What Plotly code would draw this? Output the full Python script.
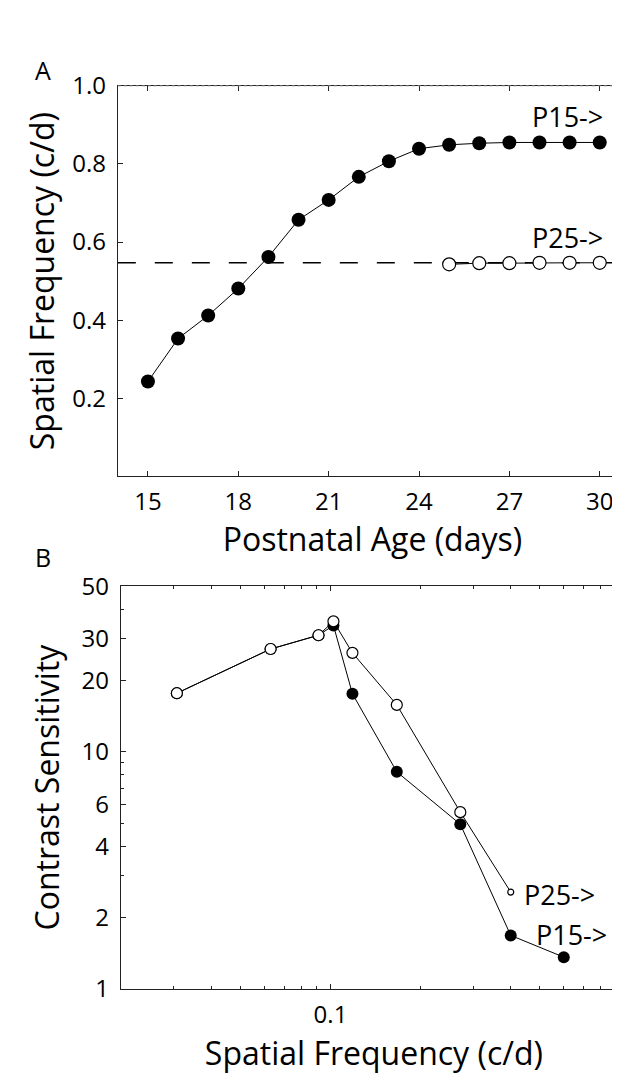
import plotly.graph_objects as go

# ---------------- Data ----------------
# Panel A: acuity (spatial frequency, c/d) vs postnatal age (days)
age_days = [15, 16, 17, 18, 19, 20, 21, 22, 23, 24, 25, 26, 27, 28, 29, 30]
p15_acuity = [0.243, 0.353, 0.412, 0.481, 0.562, 0.657, 0.708, 0.767, 0.807,
              0.839, 0.849, 0.853, 0.855, 0.855, 0.855, 0.855]
p25_age_days = [25, 26, 27, 28, 29, 30]
p25_acuity = [0.543, 0.546, 0.546, 0.547, 0.547, 0.547]
p25_level = 0.547

# Panel B: contrast sensitivity vs spatial frequency
p15_sf = [0.0307, 0.0631, 0.0912, 0.1023, 0.1184, 0.1665, 0.2713, 0.3998, 0.601]
p15_cs = [17.7, 27.2, 31.1, 34.2, 17.6, 8.24, 4.95, 1.68, 1.36]
p25_sf = [0.0307, 0.0631, 0.0912, 0.1023, 0.1184, 0.1665, 0.2713, 0.3998]
p25_cs = [17.7, 27.2, 31.1, 35.6, 26.2, 15.8, 5.57, 2.56]

a_xticks = [15, 18, 21, 24, 27, 30]
a_yticks = [0.2, 0.4, 0.6, 0.8, 1.0]
a_yticklabels = ["0.2", "0.4", "0.6", "0.8", "1.0"]
b_xticks = [0.1]
b_xticklabels = ["0.1"]
b_xminor = [0.02, 0.03, 0.04, 0.05, 0.06, 0.07, 0.08, 0.09,
            0.2, 0.3, 0.4, 0.5, 0.6, 0.7, 0.8, 0.9]
b_yticks = [1, 2, 4, 6, 10, 20, 30, 50]
b_yticklabels = ["1", "2", "4", "6", "10", "20", "30", "50"]
b_yminor = [3, 5, 7, 8, 9, 40]

# ---------------- Figure ----------------
FONT = "Open Sans"
W, H = 620, 1084

fig = go.Figure()

# Panel A
fig.add_trace(go.Scatter(
    x=age_days, y=p15_acuity, mode="lines+markers", name="P15",
    line=dict(color="black", width=1),
    marker=dict(size=14, color="black", opacity=1),
    xaxis="x", yaxis="y", showlegend=False))
fig.add_trace(go.Scatter(
    x=p25_age_days, y=p25_acuity, mode="lines+markers", name="P25",
    line=dict(color="black", width=1),
    marker=dict(size=13, color="white", opacity=1,
                line=dict(color="black", width=1.2)),
    xaxis="x", yaxis="y", showlegend=False))

# Panel B
fig.add_trace(go.Scatter(
    x=p15_sf, y=p15_cs, mode="lines+markers", name="P15",
    line=dict(color="black", width=1),
    marker=dict(size=12, color="black", opacity=1),
    xaxis="x2", yaxis="y2", showlegend=False))
fig.add_trace(go.Scatter(
    x=p25_sf, y=p25_cs, mode="lines+markers", name="P25",
    line=dict(color="black", width=1),
    marker=dict(size=[11, 11, 11, 11, 11, 11, 11, 6], color="white", opacity=1,
                line=dict(color="black", width=1.2)),
    xaxis="x2", yaxis="y2", showlegend=False))

axis_common = dict(
    showgrid=False, zeroline=False, showline=True, linecolor="#222",
    linewidth=1, ticks="inside", ticklen=5, tickcolor="#222",
    tickfont=dict(family=FONT, size=24, color="black"),
)

fig.update_layout(
    width=W, height=H,
    margin=dict(l=0, r=0, t=0, b=0),
    paper_bgcolor="white", plot_bgcolor="white",
    font=dict(family=FONT, color="black"),
    xaxis=dict(
        **axis_common, domain=[110 / W, 1.0], range=[14.0, 30.905],
        tickvals=a_xticks, mirror="ticks", anchor="y",
        ticklabelstandoff=4,
        title=dict(text="Postnatal Age (days)", font=dict(family=FONT, size=32),
                   standoff=10),
    ),
    yaxis=dict(
        **axis_common, domain=[1 - 464.6 / H, 1 - 61.7 / H], range=[0, 1.0],
        tickvals=a_yticks, ticktext=a_yticklabels, mirror="ticks", anchor="x",
        ticklabelstandoff=6,
        title=dict(text="Spatial Frequency (c/d)", font=dict(family=FONT, size=32),
                   standoff=8),
    ),
    xaxis2=dict(
        **axis_common, type="log", domain=[113 / W, 1.0], range=[-1.70, -0.01],
        tickvals=b_xticks, ticktext=b_xticklabels, mirror="allticks", anchor="y2",
        ticklabelstandoff=4,
        minor=dict(tickvals=b_xminor, ticks="inside", ticklen=3, tickcolor="#222"),
        title=dict(text="Spatial Frequency (c/d)", font=dict(family=FONT, size=32),
                   standoff=14),
    ),
    yaxis2=dict(
        **axis_common, type="log", domain=[1 - 993 / H, 1 - 578 / H],
        range=[0, 1.69897],
        tickvals=b_yticks, ticktext=b_yticklabels, mirror="allticks", anchor="x2",
        ticklabelstandoff=6,
        minor=dict(tickvals=b_yminor, ticks="inside", ticklen=3, tickcolor="#222"),
        title=dict(text="Contrast Sensitivity", font=dict(family=FONT, size=32),
                   standoff=12),
    ),
)

# Dashed P25 reference level in panel A and faint top border
fig.add_shape(type="line", xref="x domain", yref="y", x0=0, x1=1,
              y0=p25_level, y1=p25_level,
              line=dict(color="black", width=1.5, dash="18px,19px"), layer="below")
fig.add_shape(type="line", xref="x domain", yref="y domain", x0=0, x1=1, y0=1, y1=1,
              line=dict(color="#888", width=1, dash="dot"))

ann_font = dict(family=FONT, size=27, color="black")
fig.add_annotation(x=27.69, y=0.922, xref="x", yref="y", text="P15->",
                   showarrow=False, xanchor="left", yanchor="middle", font=ann_font)
fig.add_annotation(x=27.69, y=0.612, xref="x", yref="y", text="P25->",
                   showarrow=False, xanchor="left", yanchor="middle", font=ann_font)
fig.add_annotation(x=-0.36, y=0.397, xref="x2", yref="y2", text="P25->",
                   showarrow=False, xanchor="left", yanchor="middle", font=ann_font)
fig.add_annotation(x=-0.32, y=0.2305, xref="x2", yref="y2", text="P15->",
                   showarrow=False, xanchor="left", yanchor="middle", font=ann_font)

# Panel letters
fig.add_annotation(x=25 / W, y=1 - 26 / H, xref="paper", yref="paper", text="A",
                   showarrow=False, font=dict(family=FONT, size=25, color="black"))
fig.add_annotation(x=25 / W, y=1 - 548 / H, xref="paper", yref="paper", text="B",
                   showarrow=False, font=dict(family=FONT, size=25, color="black"))

fig.write_html("out.html")
